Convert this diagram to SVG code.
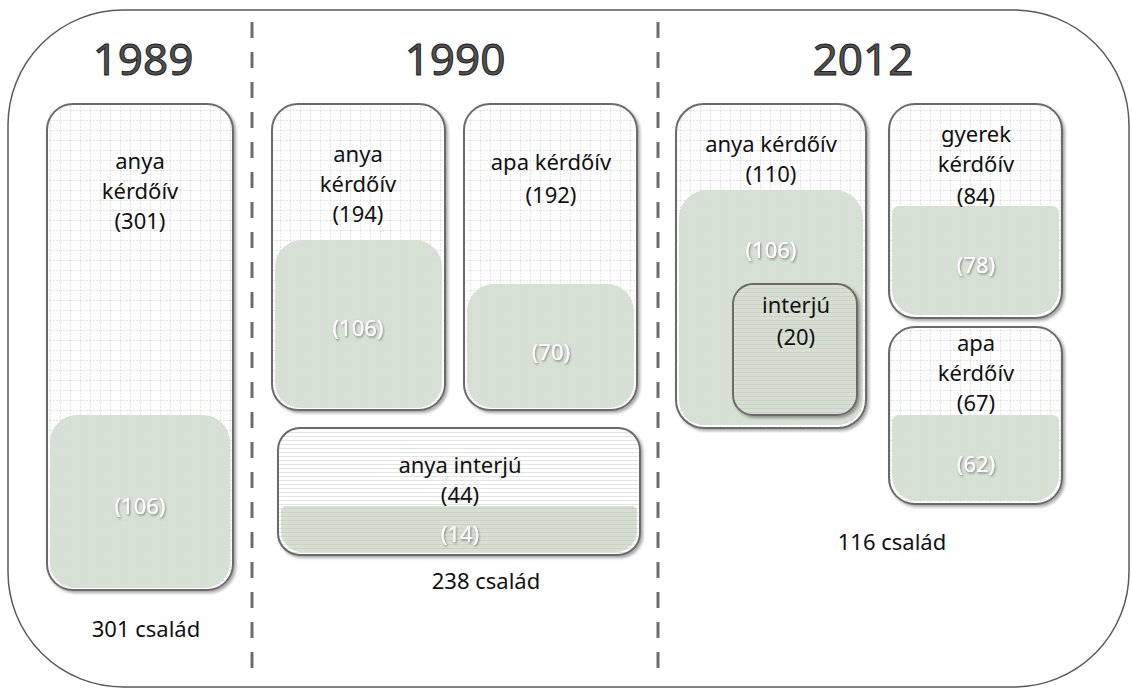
<svg xmlns="http://www.w3.org/2000/svg" width="1132" height="690" viewBox="0 0 1132 690">
<defs>
<pattern id="grid" width="10" height="10" patternUnits="userSpaceOnUse">
<rect width="10" height="10" fill="#ffffff"/>
<path d="M0 0.5H10M0.5 0V10" stroke="#e4e6e4" stroke-width="1" stroke-dasharray="2 1"/>
</pattern>
<pattern id="hlines" width="8" height="4" patternUnits="userSpaceOnUse">
<rect width="8" height="4" fill="#ffffff"/>
<path d="M0 0.5H8" stroke="#e2e4e2" stroke-width="1"/>
</pattern>
<pattern id="hlinesg" width="8" height="4" patternUnits="userSpaceOnUse">
<rect width="8" height="4" fill="#d6dfd1"/>
<path d="M0 0.5H8" stroke="#c9d3c4" stroke-width="1"/>
</pattern>
<filter id="sh" x="-10%" y="-10%" width="120%" height="120%">
<feDropShadow dx="2" dy="2" stdDeviation="1.5" flood-color="#000" flood-opacity="0.35"/>
</filter>
<filter id="tsh" x="-10%" y="-10%" width="120%" height="130%">
<feDropShadow dx="1" dy="1.5" stdDeviation="1" flood-color="#000" flood-opacity="0.4"/>
</filter>
</defs>
<style>
.box{fill:url(#grid);stroke:#6b6b6b;stroke-width:2;filter:url(#sh)}
.ibox{fill:url(#hlines);stroke:#6b6b6b;stroke-width:2;filter:url(#sh)}
.green{fill:#d4ddd0;opacity:0.92}
.greenl{fill:url(#hlinesg)}
.t{font-family:"Noto Sans","Open Sans",sans-serif;font-size:22px;fill:#111;text-anchor:middle}
.w{font-family:"Noto Sans","Open Sans",sans-serif;font-size:22px;fill:#ffffff;text-anchor:middle;filter:url(#tsh)}
.yr{font-family:"Noto Sans","Open Sans",sans-serif;font-size:44px;fill:#505050;stroke:#222;stroke-width:1;text-anchor:middle}
.div{stroke:#6e6e6e;stroke-width:3;stroke-dasharray:16 14;fill:none}
</style>
<g id="frame">
<rect x="8" y="10" width="1121" height="677" rx="115" ry="115" fill="#ffffff" stroke="#5a5a5a" stroke-width="1.5"/>
</g>
<g id="connectors">
<line class="div" x1="252" y1="22" x2="252" y2="672"/>
<line class="div" x1="658" y1="22" x2="658" y2="672"/>
</g>
<g id="years">
<text class="yr" x="143" y="75">1989</text>
<text class="yr" x="455" y="75">1990</text>
<text class="yr" x="863" y="75">2012</text>
</g>
<g id="n1989-anya">
<rect class="box" x="47" y="104" width="186" height="486" rx="26"/>
<path class="green" d="M50 442a27 27 0 0 1 27 -27h126a27 27 0 0 1 27 27v121a25 25 0 0 1 -25 25h-130a25 25 0 0 1 -25 -25z"/>
<text class="t" x="140" y="169">anya</text>
<text class="t" x="140" y="199">kérdőív</text>
<text class="t" x="140" y="229">(301)</text>
<text class="w" x="140" y="514">(106)</text>
</g>
<g id="l1989"><text class="t" x="146" y="637">301 család</text></g>
<g id="n1990-anya">
<rect class="box" x="272" y="104" width="173" height="306" rx="26"/>
<path class="green" d="M275 267a27 27 0 0 1 27 -27h113a27 27 0 0 1 27 27v116a25 25 0 0 1 -25 25h-117a25 25 0 0 1 -25 -25z"/>
<text class="t" x="358" y="162">anya</text>
<text class="t" x="358" y="192">kérdőív</text>
<text class="t" x="358" y="222">(194)</text>
<text class="w" x="358" y="336">(106)</text>
</g>
<g id="n1990-apa">
<rect class="box" x="464" y="104" width="173" height="306" rx="26"/>
<path class="green" d="M467 311a27 27 0 0 1 27 -27h113a27 27 0 0 1 27 27v72a25 25 0 0 1 -25 25h-117a25 25 0 0 1 -25 -25z"/>
<text class="t" x="551" y="170">apa kérdőív</text>
<text class="t" x="551" y="203">(192)</text>
<text class="w" x="551" y="360">(70)</text>
</g>
<g id="n1990-interju">
<rect class="ibox" x="278" y="428" width="362" height="127" rx="22"/>
<path class="greenl" d="M281 511a5 5 0 0 1 5 -5h346a5 5 0 0 1 5 5v20a21 21 0 0 1 -21 21h-314a21 21 0 0 1 -21 -21z"/>
<text class="t" x="460" y="473">anya interjú</text>
<text class="t" x="460" y="503">(44)</text>
<text class="w" x="460" y="542">(14)</text>
</g>
<g id="l1990"><text class="t" x="486" y="589">238 család</text></g>
<g id="n2012-anya">
<rect class="box" x="676" y="104" width="190" height="324" rx="28"/>
<path class="green" d="M679 218a28 28 0 0 1 28 -28h128a28 28 0 0 1 28 28v182a25 25 0 0 1 -25 25h-134a25 25 0 0 1 -25 -25z"/>
<text class="t" x="771" y="152">anya kérdőív</text>
<text class="t" x="771" y="182">(110)</text>
<text class="w" x="771" y="258">(106)</text>
</g>
<g id="n2012-interju">
<rect class="ibox" x="733" y="284" width="124" height="131" rx="20" style="fill:url(#hlinesg)"/>
<text class="t" x="796" y="313">interjú</text>
<text class="t" x="796" y="345">(20)</text>
</g>
<g id="n2012-gyerek">
<rect class="box" x="889" y="104" width="173" height="214" rx="26"/>
<path class="green" d="M892 213a7 7 0 0 1 7 -7h153a7 7 0 0 1 7 7v77a25 25 0 0 1 -25 25h-117a25 25 0 0 1 -25 -25z"/>
<text class="t" x="976" y="142">gyerek</text>
<text class="t" x="976" y="172">kérdőív</text>
<text class="t" x="976" y="204">(84)</text>
<text class="w" x="976" y="273">(78)</text>
</g>
<g id="n2012-apa">
<rect class="box" x="889" y="327" width="173" height="177" rx="26"/>
<path class="green" d="M892 421a6 6 0 0 1 6 -6h155a6 6 0 0 1 6 6v55a25 25 0 0 1 -25 25h-117a25 25 0 0 1 -25 -25z"/>
<text class="t" x="976" y="351">apa</text>
<text class="t" x="976" y="381">kérdőív</text>
<text class="t" x="976" y="411">(67)</text>
<text class="w" x="976" y="472">(62)</text>
</g>
<g id="l2012"><text class="t" x="892" y="550">116 család</text></g>
</svg>
